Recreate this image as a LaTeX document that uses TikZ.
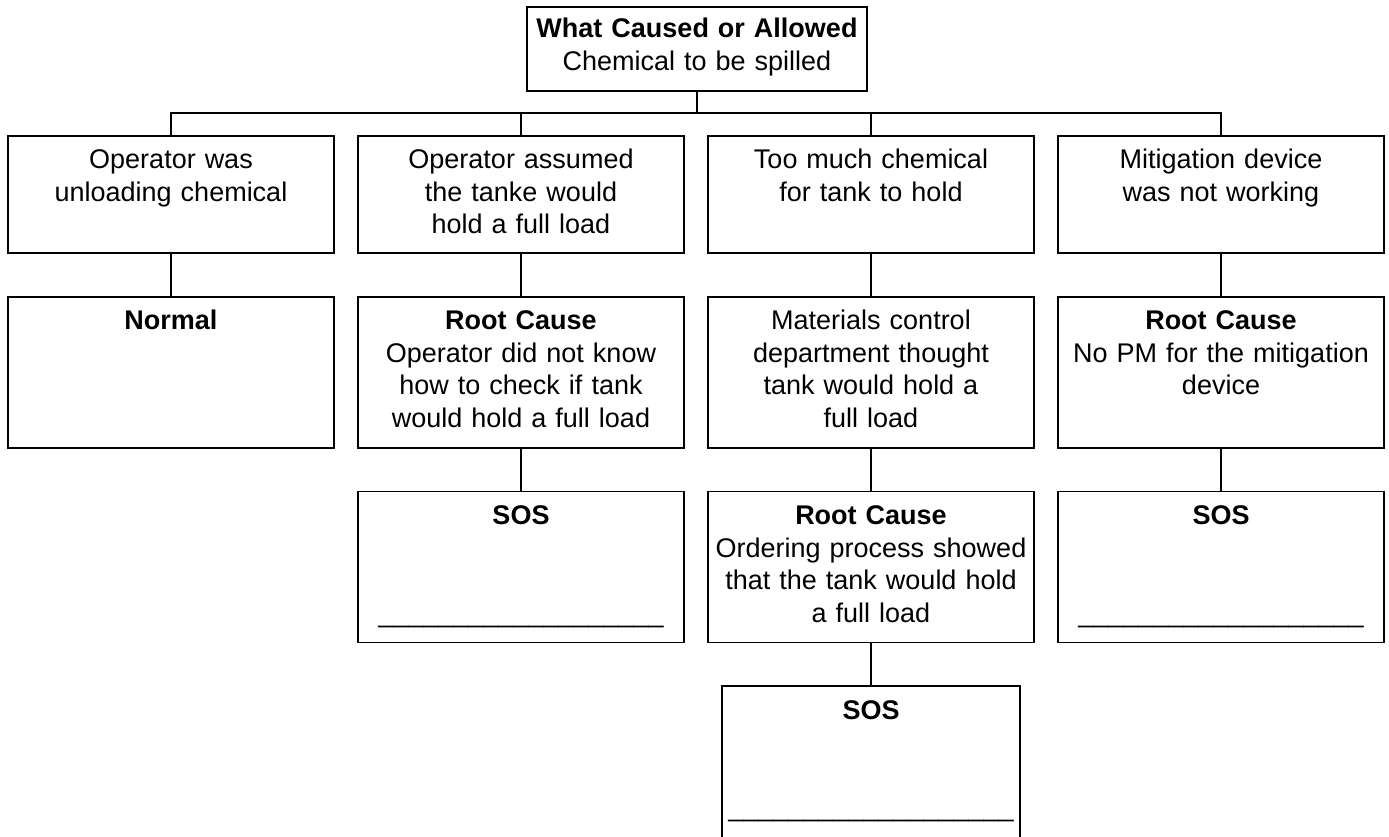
\documentclass[tikz,border=0pt]{standalone}
\usepackage{fontspec}
\setmainfont{Liberation Sans}
\usetikzlibrary{positioning}
\newcommand{\sosline}{\_\_\_\_\_\_\_\_\_\_\_\_\_\_\_\_\_\_\_}

\begin{document}
\begin{tikzpicture}[x=1pt, y=-1pt, line width=1.8pt,
         cause/.style={
         % The shape:
         rectangle, draw=black, fill=white,
         % The size:
         inner xsep=3pt, inner ysep=0pt, text width=320pt,
         text height=33pt, text depth=#1,
         % Font
         align=center, anchor=north,
         font=\fontsize{27}{32.5}\selectfont},
         cause/.default=118pt,
         top/.style={cause=53pt, text width=334pt, text height=31pt}]
   \useasboundingbox (0,0) rectangle (1389,836);
   \node[top] (spill) at (697,6) {\textbf{What Caused or Allowed}\\Chemical to be spilled};
   \coordinate (bus) at (697,113);
   \foreach \n/\x/\t in {unload/171/{Operator was\\unloading chemical},
                         assume/521/{Operator assumed\\the tanke would\\hold a full load},
                         much/871/{Too much chemical\\for tank to hold},
                         device/1221/{Mitigation device\\was not working}}{
      \node[cause=84pt] (\n) at (\x,135) {\t};
      \draw (spill.south) -- (bus) -| (\n.north);
   };
   %% second row
   \node[cause, below=42pt of unload] (normal) {\textbf{Normal}};
   \node[cause, below=42pt of assume] (rootop) {\textbf{Root Cause}\\Operator did not know\\how to check if tank\\would hold a full load};
   \node[cause, below=42pt of much] (matctl) {Materials control\\department thought\\tank would hold a\\full load};
   \node[cause, below=42pt of device] (rootpm) {\textbf{Root Cause}\\No PM for the mitigation\\device};
   %% third row
   \node[cause, below=42pt of rootop] (sosop) {\textbf{SOS}\\[65pt]\sosline};
   \node[cause, below=42pt of matctl] (rootord) {\textbf{Root Cause}\\Ordering process showed\\that the tank would hold\\a full load};
   \node[cause, below=42pt of rootpm] (sospm) {\textbf{SOS}\\[65pt]\sosline};
   %% last one runs off the page
   \node[cause=119pt, text width=292pt, below=42pt of rootord] (sosord) {\textbf{SOS}\\[65pt]\sosline};
   \foreach \a/\b in {unload/normal, assume/rootop, much/matctl, device/rootpm,
                      rootop/sosop, matctl/rootord, rootpm/sospm, rootord/sosord}
      \draw (\a.south) -- (\b.north);
\end{tikzpicture}
\end{document}
